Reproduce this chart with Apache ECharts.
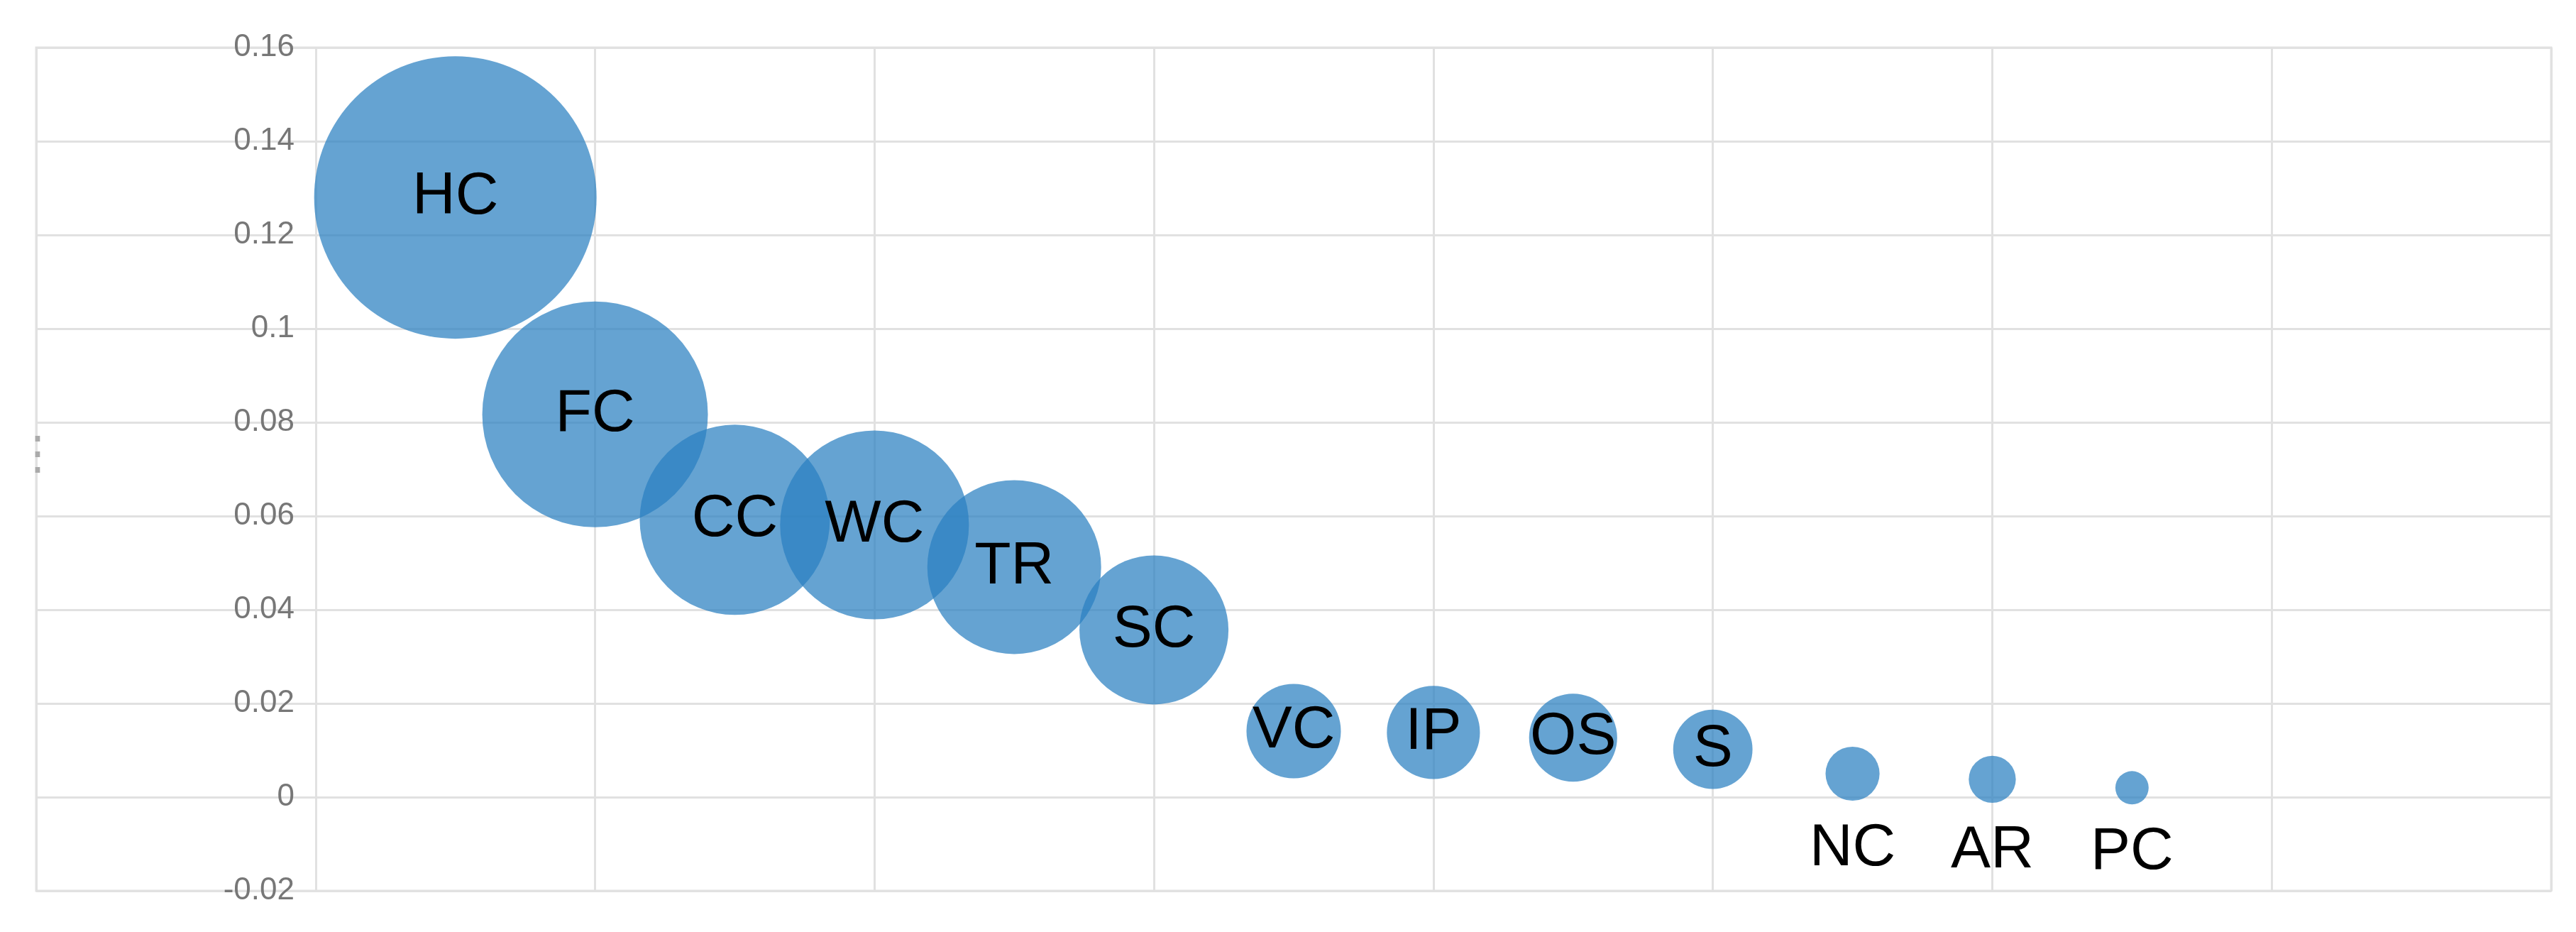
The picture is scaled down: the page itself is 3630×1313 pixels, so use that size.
<!DOCTYPE html>
<html>
<head>
    <meta charset="utf-8">
    <script src="https://cdn.jsdelivr.net/npm/echarts@6.0.0/dist/echarts.min.js"></script>
    <style>html, body { margin: 0; padding: 0; background: #fff; }</style>
</head>
<body>
<div id="chart" style="width: 3630px; height: 1313px;"></div>
<script type="text/javascript">
    // Data
    var names = ['HC', 'FC', 'CC', 'WC', 'TR', 'SC', 'VC', 'IP', 'OS', 'S', 'NC', 'AR', 'PC'];
    var xValues = [1.5, 2, 2.5, 3, 3.5, 4, 4.5, 5, 5.5, 6, 6.5, 7, 7.5];
    var yValues = [0.128, 0.0817, 0.0592, 0.0581, 0.0491, 0.0357, 0.0141, 0.0138, 0.0127, 0.0102, 0.0050, 0.0038, 0.0020];
    var bubbleArea = [1584, 1011, 718, 708, 600, 441, 177, 172, 154, 125, 58, 44, 22];
    var labelsBelow = ['NC', 'AR', 'PC'];

    var gridColor = '#e1e1e1';

    var points = names.map(function (n, i) {
        var item = { name: n, value: [xValues[i], yValues[i], bubbleArea[i]] };
        if (labelsBelow.indexOf(n) >= 0) {
            item.label = { position: 'bottom', distance: 26 };
        }
        return item;
    });

    var chart = echarts.init(document.getElementById('chart'));
    var option = {
        animation: false,
        title: {
            text: '⋮', left: 16, top: 605,
            textStyle: { fontSize: 64, color: '#aaa', fontWeight: 'normal' }
        },
        grid: {
            left: 51, right: 35, top: 67, bottom: 58,
            containLabel: false, outerBoundsMode: 'none',
            show: true, borderColor: gridColor, borderWidth: 3
        },
        xAxis: {
            type: 'value', min: 0, max: 9, interval: 1,
            axisLine: { show: false }, axisTick: { show: false }, axisLabel: { show: false },
            splitLine: { show: true, lineStyle: { color: gridColor, width: 3 } }
        },
        yAxis: {
            type: 'value', min: -0.02, max: 0.16, interval: 0.02,
            offset: -394,
            axisLine: { show: false, onZero: false }, axisTick: { show: false },
            axisLabel: { margin: 30, fontSize: 44, color: '#777', fontFamily: 'Liberation Sans' },
            splitLine: { show: true, lineStyle: { color: gridColor, width: 3 } }
        },
        series: [{
            type: 'scatter',
            data: points,
            symbolSize: function (v) { return Math.sqrt(v[2]) * 10; },
            itemStyle: { color: 'rgba(42, 127, 192, 0.72)', opacity: 1 },
            label: {
                show: true, position: 'inside', formatter: '{b}',
                fontSize: 84, color: '#000', fontFamily: 'Liberation Sans'
            }
        }]
    };
    chart.setOption(option);
</script>
</body>
</html>
